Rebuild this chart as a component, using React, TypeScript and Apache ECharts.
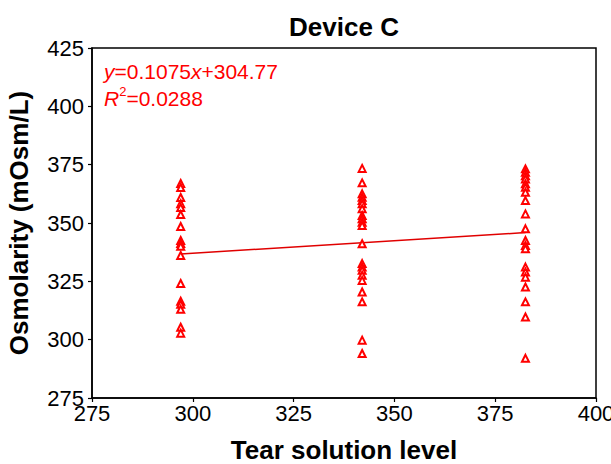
import React, { useEffect, useRef } from "react";
import * as echarts from "echarts";

const titleText = "Device C";
const xAxisName = "Tear solution level";
const yAxisName = "Osmolarity (mOsm/L)";

const col1X = 297;
const col1Y = [366.9, 365.2, 360.9, 358.3, 356.6, 353.6, 348.5, 342.5, 341.2, 340, 336.1, 324.1, 316.5, 315.2, 313, 305.3, 302.8];
const col2X = 342;
const col2Y = [373.4, 367.2, 362.5, 361, 359.6, 358.2, 356.1, 353.2, 351.8, 350.3, 348.9, 341.1, 332.6, 331.1, 329.7, 327.6, 325.4, 320.4, 316.2, 299.8, 294.1];
const col3X = 382.5;
const col3Y = [373.2, 371.7, 370.3, 368.9, 366.8, 365.3, 363.2, 359.6, 353.9, 347.5, 342.5, 340.4, 339, 331.1, 329, 326.8, 322.6, 316.2, 309.7, 292];

const fitX = [297, 382.5];
const fitY = [336.7, 345.9];

const xMin = 275, xMax = 400, xStep = 25;
const yMin = 275, yMax = 425, yStep = 25;

const eqLine1 = "{i|y}=0.1075{i|x}+304.77";
const eqLine2 = "{i|R}{sup|2}=0.0288";

export default function App() {
  const ref = useRef<HTMLDivElement>(null);
  useEffect(() => {
    if (!ref.current) return;
    const chart = echarts.init(ref.current, undefined, { renderer: "svg" });
    const pts: number[][] = [];
    col1Y.forEach((v) => pts.push([col1X, v]));
    col2Y.forEach((v) => pts.push([col2X, v]));
    col3Y.forEach((v) => pts.push([col3X, v]));
    const font = "Liberation Sans, Arial, sans-serif";
    chart.setOption({
      animation: false,
      backgroundColor: "#ffffff",
      textStyle: { fontFamily: font },
      title: {
        text: titleText,
        left: 339,
        textAlign: "center",
        top: 9,
        textStyle: { fontSize: 26, fontWeight: "bold", color: "#000", fontFamily: font },
      },
      grid: {
        left: 92,
        right: 15,
        top: 48,
        bottom: 66,
        outerBoundsMode: "none",
        containLabel: false,
        show: true,
        borderColor: "#000",
        borderWidth: 1.5,
        backgroundColor: "transparent",
      },
      xAxis: {
        type: "value",
        min: xMin,
        max: xMax,
        interval: xStep,
        name: xAxisName,
        nameLocation: "middle",
        nameGap: 39,
        nameTextStyle: { fontSize: 26, fontWeight: "bold", color: "#000", fontFamily: font },
        axisLine: { show: true, lineStyle: { color: "#000", width: 1.5 } },
        axisTick: { show: true, inside: false, length: 4, lineStyle: { color: "#000", width: 1.2 } },
        axisLabel: { fontSize: 22, color: "#000", margin: 4, fontFamily: font },
        splitLine: { show: false },
      },
      yAxis: {
        type: "value",
        min: yMin,
        max: yMax,
        interval: yStep,
        name: yAxisName,
        nameLocation: "middle",
        nameGap: 60,
        nameTextStyle: { fontSize: 26, fontWeight: "bold", color: "#000", fontFamily: font },
        axisLine: { show: true, lineStyle: { color: "#000", width: 1.5 } },
        axisTick: { show: true, inside: false, length: 4, lineStyle: { color: "#000", width: 1.2 } },
        axisLabel: { fontSize: 22, color: "#000", margin: 8, fontFamily: font },
        splitLine: { show: false },
      },
      graphic: [
        {
          type: "text",
          left: 104,
          top: 58,
          style: {
            text: eqLine1 + "\n" + eqLine2,
            fill: "#ff0000",
            fontSize: 21,
            fontFamily: font,
            lineHeight: 27,
            rich: {
              i: { fontStyle: "italic", fill: "#ff0000", fontSize: 21, fontFamily: font },
              sup: { fontSize: 13, fill: "#ff0000", fontFamily: font, verticalAlign: "top", padding: [0, 0, 10, 0] },
            },
          },
        },
      ],
      series: [
        {
          type: "scatter",
          data: pts,
          symbol: "triangle",
          symbolSize: 7,
          itemStyle: { color: "#ffffff", borderColor: "#ff0000", borderWidth: 2, opacity: 1 },
          z: 3,
        },
        {
          type: "line",
          data: fitX.map((x, i) => [x, fitY[i]]),
          symbol: "none",
          lineStyle: { color: "#e00000", width: 1.5 },
          z: 2,
        },
      ],
    });
    return () => chart.dispose();
  }, []);
  return <div ref={ref} style={{ position: "fixed", left: 0, top: 0, width: 611, height: 464 }} />;
}
